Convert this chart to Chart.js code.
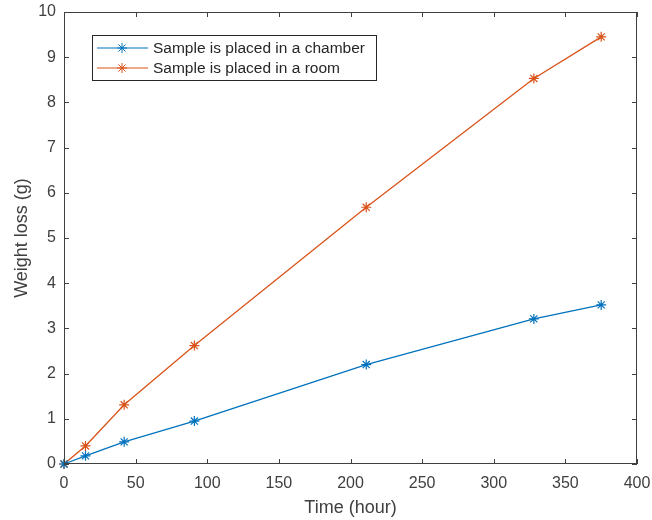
<!DOCTYPE html>
<html>
<head>
<meta charset="utf-8">
<script src="https://cdn.jsdelivr.net/npm/chart.js@4.4.0/dist/chart.umd.min.js"></script>
<style>
  html, body { margin: 0; padding: 0; background: #fff; }
  #wrap { width: 652px; height: 520px; }
</style>
</head>
<body>
<div id="wrap"><canvas id="chart1" width="652" height="520"></canvas></div>
<script>
const hours = [0, 15, 42, 91, 211, 328, 375];
const chamberLoss = [0, 0.18, 0.49, 0.95, 2.2, 3.21, 3.52];
const roomLoss = [0, 0.40, 1.31, 2.62, 5.68, 8.53, 9.45];
const seriesNames = ['Sample is placed in a chamber', 'Sample is placed in a room'];
const seriesColors = ['#0072BD', '#D95319'];

const axisColor = '#404040';
const font = 'Liberation Sans, Arial, sans-serif';

// MATLAB style box with inward ticks
const boxTicks = {
    id: 'boxTicks',
    afterDatasetsDraw(chart) {
        const { ctx, chartArea: a, scales } = chart;
        ctx.save();
        ctx.strokeStyle = axisColor;
        ctx.lineWidth = 1;
        ctx.strokeRect(a.left + 0.5, a.top + 0.5, a.right - a.left - 1, a.bottom - a.top - 1);
        ctx.beginPath();
        scales.x.ticks.forEach(t => {
            const px = Math.round(scales.x.getPixelForValue(t.value)) + 0.5;
            ctx.moveTo(px, a.bottom); ctx.lineTo(px, a.bottom - 5);
            ctx.moveTo(px, a.top); ctx.lineTo(px, a.top + 5);
        });
        scales.y.ticks.forEach(t => {
            const py = Math.round(scales.y.getPixelForValue(t.value)) + 0.5;
            ctx.moveTo(a.left, py); ctx.lineTo(a.left + 5, py);
            ctx.moveTo(a.right, py); ctx.lineTo(a.right - 5, py);
        });
        ctx.stroke();
        ctx.restore();
    },
    afterDraw(chart) {
        // legend box inside the plot
        const { ctx } = chart;
        const x0 = 92, y0 = 35, w = 284, h = 45;
        ctx.save();
        ctx.fillStyle = '#fff';
        ctx.fillRect(x0, y0, w, h);
        ctx.strokeStyle = '#262626';
        ctx.lineWidth = 1;
        ctx.strokeRect(x0 + 0.5, y0 + 0.5, w, h);
        ctx.font = '15.5px ' + font;
        ctx.textBaseline = 'middle';
        seriesNames.forEach((name, i) => {
            const y = y0 + 13 + i * 20;
            ctx.strokeStyle = seriesColors[i];
            ctx.beginPath();
            ctx.moveTo(x0 + 5, y); ctx.lineTo(x0 + 56, y);
            ctx.stroke();
            Chart.helpers.drawPoint(ctx, { pointStyle: 'star', radius: 5, rotation: 0, borderWidth: 1 }, x0 + 30, y);
            ctx.fillStyle = '#262626';
            ctx.fillText(name, x0 + 61, y + 1);
        });
        ctx.restore();
    }
};

const ctx1 = document.getElementById('chart1');

new Chart(ctx1, {
    type: 'line',
    data: {
        datasets: [
            {
                label: seriesNames[0],
                data: hours.map((h, i) => ({ x: h, y: chamberLoss[i] })),
                borderColor: seriesColors[0],
                backgroundColor: seriesColors[0],
                borderWidth: 1.3,
                pointStyle: 'star',
                pointRadius: 5,
                pointBorderWidth: 1.2,
                tension: 0
            },
            {
                label: seriesNames[1],
                data: hours.map((h, i) => ({ x: h, y: roomLoss[i] })),
                borderColor: seriesColors[1],
                backgroundColor: seriesColors[1],
                borderWidth: 1.3,
                pointStyle: 'star',
                pointRadius: 5,
                pointBorderWidth: 1.2,
                tension: 0
            }
        ]
    },
    options: {
        responsive: false,
        animation: false,
        clip: false,
        layout: { padding: { top: 12, right: 15, left: 0, bottom: 0 } },
        plugins: {
            legend: { display: false },
            tooltip: { enabled: false }
        },
        scales: {
            x: {
                type: 'linear',
                min: 0,
                max: 400,
                ticks: { stepSize: 50, color: axisColor, font: { size: 16, family: font }, padding: 10, maxRotation: 0 },
                grid: { display: false, drawTicks: false },
                border: { display: false },
                title: { display: true, text: 'Time (hour)', color: axisColor, font: { size: 18, family: font }, padding: { top: 0, bottom: 1 } },
                afterFit(scale) {
                    scale.height = 56;
                    scale.paddingLeft = 0;
                    scale.paddingRight = 0;
                }
            },
            y: {
                min: 0,
                max: 10,
                ticks: { stepSize: 1, color: axisColor, font: { size: 16, family: font }, padding: 8 },
                grid: { display: false, drawTicks: false },
                border: { display: false },
                title: { display: true, text: 'Weight loss (g)', color: axisColor, font: { size: 18, family: font }, padding: { top: 11, bottom: 0 } },
                afterFit(scale) {
                    scale.width = 64;
                    scale.paddingTop = 0;
                    scale.paddingBottom = 0;
                }
            }
        }
    },
    plugins: [boxTicks]
});
</script>
</body>
</html>
